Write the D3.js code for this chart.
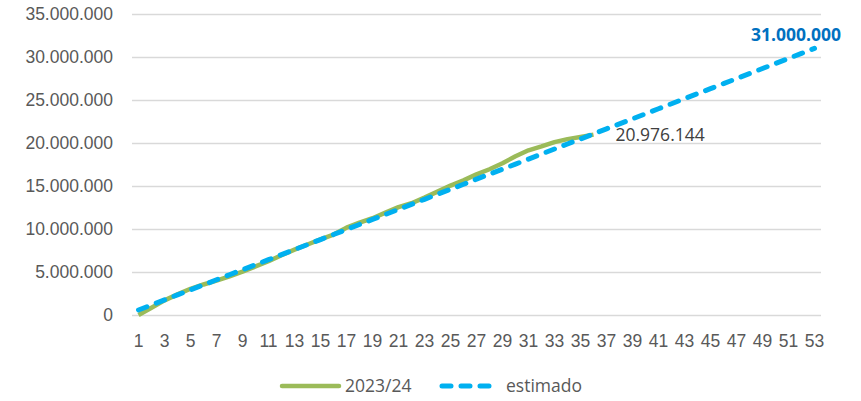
<!DOCTYPE html>
<html>
<head>
<meta charset="utf-8">
<script src="https://cdn.jsdelivr.net/npm/d3@7"></script>
<style>
  body { margin: 0; background: #fff; }
  svg { display: block; font-family: "Open Sans", sans-serif; }
</style>
</head>
<body>
<svg id="chart" width="861" height="401"></svg>
<script>
// weeks 1..53
var weeks = d3.range(1, 54);
var xTicks = weeks.filter(function (d) { return d % 2 == 1; });
var yTicks = [0, 5000000, 10000000, 15000000, 20000000, 25000000, 30000000, 35000000];

// 2023/24 cumulative (weeks 1..36)
var real = [0, 850000, 1700000, 2400000, 3050000, 3550000, 4000000, 4500000, 5050000, 5650000,
  6250000, 6950000, 7600000, 8200000, 8800000, 9350000, 10150000, 10750000, 11250000, 11900000,
  12550000, 13000000, 13650000, 14350000, 15050000, 15650000, 16350000, 16950000, 17650000, 18450000,
  19150000, 19600000, 20100000, 20450000, 20700000, 20976144];

// estimado (weeks 1..53)
var estimado = [584906, 1169811, 1754717, 2339623, 2924528, 3509434, 4094340, 4679245, 5264151, 5849057,
  6433962, 7018868, 7603774, 8188679, 8773585, 9358491, 9943396, 10528302, 11113208, 11698113,
  12283019, 12867925, 13452830, 14037736, 14622642, 15207547, 15792453, 16377358, 16962264, 17547170,
  18132075, 18716981, 19301887, 19886792, 20471698, 21056604, 21641509, 22226415, 22811321, 23396226,
  23981132, 24566038, 25150943, 25735849, 26320755, 26905660, 27490566, 28075472, 28660377, 29245283,
  29830189, 30415094, 31000000];

var seriesNames = ["2023/24", "estimado"];

var svg = d3.select("#chart");
var pLeft = 132, pRight = 821, pTop = 14, pBottom = 315;

var x = d3.scaleBand().domain(weeks).range([pLeft, pRight]);
var y = d3.scaleLinear().domain([0, 35000000]).range([pBottom, pTop]);
var fmt = function (v) { return d3.format(",")(v).replace(/,/g, "."); };
var px = function (w) { return x(w) + x.bandwidth() / 2; };

// grid + y labels
var yAxis = d3.axisLeft(y).tickValues(yTicks).tickSize(-(pRight - pLeft)).tickFormat(fmt).tickPadding(19);
svg.append("g").attr("transform", "translate(" + pLeft + ",0)").call(yAxis)
  .call(function (g) {
    g.select(".domain").remove();
    g.selectAll("line").attr("stroke", "#d9d9d9").attr("stroke-width", 1.3);
    g.selectAll("text").attr("fill", "#595959").style("font-size", "17.5px");
  });

// x labels
var xAxis = d3.axisBottom(x).tickValues(xTicks).tickSize(0).tickPadding(20);
svg.append("g").attr("transform", "translate(0," + pBottom + ")").call(xAxis)
  .call(function (g) {
    g.select(".domain").remove();
    g.selectAll("text").attr("fill", "#595959").style("font-size", "17.5px");
  });

var line = d3.line().x(function (d, i) { return px(weeks[i]); }).y(function (d) { return y(d); });

svg.append("path").datum(real)
  .attr("d", line).attr("fill", "none")
  .attr("stroke", "#9bbb59").attr("stroke-width", 4.5).attr("stroke-linejoin", "round");

svg.append("path").datum(estimado)
  .attr("d", line).attr("fill", "none")
  .attr("stroke", "#00b0f0").attr("stroke-width", 5)
  .attr("stroke-dasharray", "9,10").attr("stroke-linecap", "round");

// data labels
var lastReal = real[real.length - 1];
svg.append("text").attr("x", px(36) + 22).attr("y", y(lastReal)).attr("dy", "0.35em")
  .attr("fill", "#404040").style("font-size", "17.5px").text(fmt(lastReal));

var lastEst = estimado[estimado.length - 1];
svg.append("text").attr("x", 841).attr("y", y(lastEst) - 14).attr("dy", "0.35em")
  .attr("text-anchor", "end").attr("fill", "#0070c0").style("font-size", "17.5px")
  .style("font-weight", "bold").text(fmt(lastEst));

// legend
var lg = svg.append("g").attr("transform", "translate(0,386)");
lg.append("line").attr("x1", 282).attr("x2", 339).attr("stroke", "#9bbb59")
  .attr("stroke-width", 4.5).attr("stroke-linecap", "round");
lg.append("text").attr("x", 345).attr("dy", "0.35em").attr("fill", "#595959")
  .style("font-size", "17.5px").text(seriesNames[0]);
lg.append("line").attr("x1", 442).attr("x2", 494).attr("stroke", "#00b0f0")
  .attr("stroke-width", 5).attr("stroke-dasharray", "9,10").attr("stroke-linecap", "round");
lg.append("text").attr("x", 506).attr("dy", "0.35em").attr("fill", "#595959")
  .style("font-size", "17.5px").text(seriesNames[1]);
</script>
</body>
</html>
